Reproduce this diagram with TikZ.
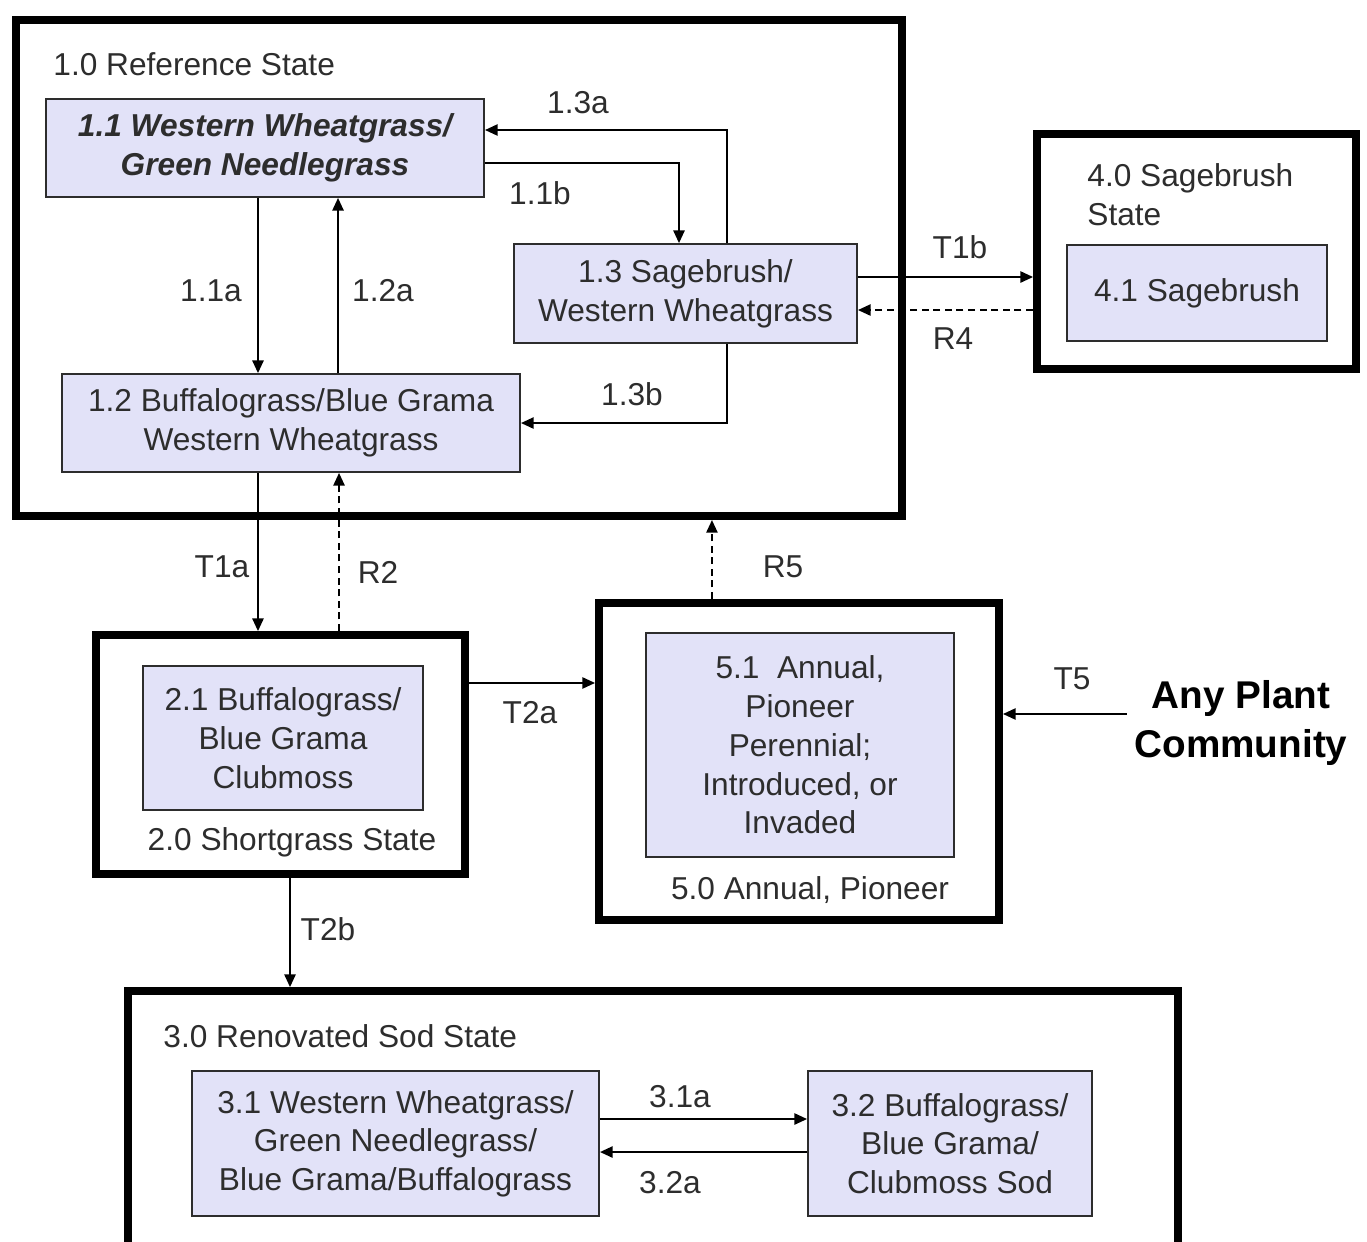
\documentclass[tikz,border=0pt]{standalone}
\usepackage{fontspec}
\setmainfont{Liberation Sans}
\usetikzlibrary{arrows.meta}
\definecolor{lav}{RGB}{226,226,248}
\definecolor{ink}{RGB}{45,45,45}

\begin{document}
\begin{tikzpicture}[x=0.01cm,y=-0.01cm,
	every node/.style={font=\fontsize{9}{11}\selectfont,text=ink,align=center},
	>={Triangle[length=3.6pt,width=3.2pt]},
	statebox/.style={draw=black,fill=white,line width=2.2pt,inner sep=0pt},
	commbox/.style={draw=ink,fill=lav,line width=0.5pt,inner sep=0pt},
	trans/.style={->,draw=black,line width=0.5pt},
	restore/.style={trans,dash pattern=on 2pt off 1.3pt}]
	
	\useasboundingbox (0,0) rectangle (1367,1241);
	
	% states
	\begin{scope}[every node/.append style={statebox}]
		\node[minimum width=8.86cm,minimum height=4.96cm] (s10) at (459,268) {};
		\node[minimum width=3.19cm,minimum height=2.35cm] (s40) at (1196.5,251.5) {};
		\node[minimum width=3.69cm,minimum height=2.39cm] (s20) at (280.5,754.5) {};
		\node[minimum width=4.00cm,minimum height=3.17cm] (s50) at (799,761.5) {};
		\node[minimum width=10.5cm,minimum height=2.79cm] (s30) at (653,1130.5) {};
	\end{scope}
	
	% state titles
	\node[anchor=west] (t10) at (41,64) {1.0 Reference State};
	\node[anchor=north west,align=left] (t40) at (1075,151) {4.0 Sagebrush\\State};
	\node (t20) at (292,842) {2.0 Shortgrass State};
	\node (t50) at (810,890) {5.0 Annual, Pioneer};
	\node[anchor=west] (t30) at (151,1036) {3.0 Renovated Sod State};
	
	% plant communities
	\begin{scope}[every node/.append style={commbox}]
		\node[minimum width=4.38cm,minimum height=0.98cm,
			font=\fontsize{9}{11}\selectfont\bfseries\itshape] (s11) at (265,148)
			{1.1 Western Wheatgrass/\\Green Needlegrass};
		\node[minimum width=3.43cm,minimum height=0.99cm] (s13) at (685.5,293.5)
			{1.3 Sagebrush/\\Western Wheatgrass};
		\node[minimum width=4.58cm,minimum height=0.98cm] (s12) at (291,423)
			{1.2 Buffalograss/Blue Grama\\Western Wheatgrass};
		\node[minimum width=2.60cm,minimum height=0.96cm] (s41) at (1197,293)
			{4.1 Sagebrush};
		\node[minimum width=2.80cm,minimum height=1.44cm] (s21) at (283,738)
			{2.1 Buffalograss/\\Blue Grama\\Clubmoss};
		\node[minimum width=3.08cm,minimum height=2.24cm] (s51) at (800,745)
			{5.1~ Annual,\\Pioneer\\Perennial;\\Introduced, or\\Invaded};
		\node[minimum width=4.07cm,minimum height=1.45cm] (s31) at (395.5,1143.5)
			{3.1 Western Wheatgrass/\\Green Needlegrass/\\Blue Grama/Buffalograss};
		\node[minimum width=2.84cm,minimum height=1.45cm] (s32) at (950,1143.5)
			{3.2 Buffalograss/\\Blue Grama/\\Clubmoss Sod};
	\end{scope}
	
	\node[font=\fontsize{11}{13.7}\selectfont\bfseries,text=black,inner sep=2pt] (any) at (1241,723)
		{Any Plant\\Community};
	
	% jog points
	\coordinate (t1b) at ([yshift=0.165cm]s13.east);
	\coordinate (r4) at ([yshift=-0.165cm]s13.east);
	\coordinate (t1a) at ([xshift=-0.33cm]s12.south);
	\coordinate (r2) at ([xshift=0.48cm]s12.south);
	\coordinate (t2a) at ([yshift=0.715cm]s20.east);
	\coordinate (t2b) at ([xshift=0.095cm]s20.south);
	\coordinate (r5) at ([xshift=-0.87cm]s50.north);
	\coordinate (t5) at ([yshift=0.475cm]s50.east);
	\coordinate (a31) at ([yshift=0.245cm]s31.east);
	\coordinate (a32) at ([yshift=-0.085cm]s31.east);
	
	% pathways
	\draw[trans] ([xshift=-0.07cm]s11.south) -- ([xshift=-0.07cm]s11.south |- s12.north);
	\draw[trans] ([xshift=0.47cm]s12.north) -- ([xshift=0.47cm]s12.north |- s11.south);
	\draw[trans] ([xshift=0.415cm]s13.north) |- ([yshift=0.18cm]s11.east);
	\draw[trans] ([yshift=-0.15cm]s11.east) -| ([xshift=-0.065cm]s13.north);
	\draw[trans] ([xshift=0.415cm]s13.south) |- (s12.east);
	\draw[trans] (t1b) -- (t1b -| s40.west);
	\draw[restore] (r4 -| s40.west) -- (r4);
	\draw[trans] (t1a) -- (t1a |- s20.north);
	\draw[restore] (r2 |- s20.north) -- (r2);
	\draw[trans] (t2a) -- (t2a -| s50.west);
	\draw[trans] (t2b) -- (t2b |- s30.north);
	\draw[restore] (r5) -- (r5 |- s10.south);
	\draw[trans] (t5 -| any.west) -- (t5);
	\draw[trans] (a31) -- (a31 -| s32.west);
	\draw[trans] (a32 -| s32.west) -- (a32);
	
	% pathway labels
	\node (l13a) at (578,103) {1.3a};
	\node (l11b) at (540,193) {1.1b};
	\node (l11a) at (211,291) {1.1a};
	\node (l12a) at (383,291) {1.2a};
	\node (l13b) at (632,394) {1.3b};
	\node (lt1b) at (960,247) {T1b};
	\node (lr4) at (953,339) {R4};
	\node (lt1a) at (222,567) {T1a};
	\node (lr2) at (378,572) {R2};
	\node (lr5) at (783,567) {R5};
	\node (lt2a) at (530,713) {T2a};
	\node (lt2b) at (328,929) {T2b};
	\node (lt5) at (1072,679) {T5};
	\node (l31a) at (680,1097) {3.1a};
	\node (l32a) at (670,1183) {3.2a};
\end{tikzpicture}
\end{document}
